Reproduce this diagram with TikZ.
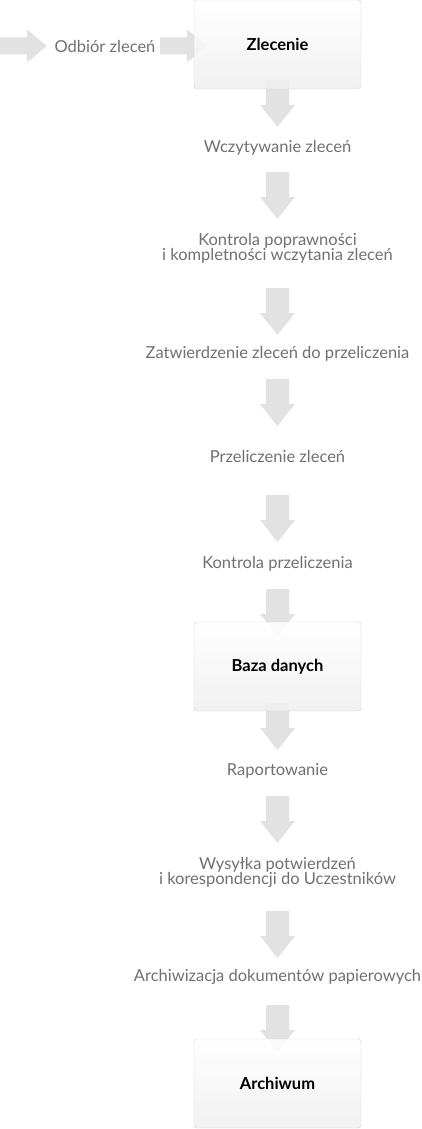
\documentclass[tikz,border=0pt]{standalone}
\usepackage{fontspec}
\setmainfont{Lato}
\definecolor{txtgray}{HTML}{707070}
\definecolor{arrowgray}{HTML}{E2E2E2}
\definecolor{boxline}{HTML}{D2D2D2}
\definecolor{boxbot}{HTML}{EFEFEF}
\tikzset{
  stage/.style={text=txtgray, font=\fontsize{16.5}{15}\selectfont, align=center, inner sep=0pt},
  box/.style={draw=boxline, rounded corners=3pt, top color=white, bottom color=boxbot,
    fill opacity=0.88, text opacity=1, minimum width=167pt, minimum height=89pt,
    font=\fontsize{16.5}{18}\selectfont\bfseries, text=black},
  pics/fatdown/.style={code={
    \fill[arrowgray] (-11.5,0) -- (11.5,0) -- (11.5,25) -- (17.5,25) -- (0,47)
      -- (-17.5,25) -- (-11.5,25) -- cycle;}},
  pics/fatright/.style={code={
    \fill[arrowgray] (0,-8.5) -- (27,-8.5) -- (27,-16.5) -- (47,0) -- (27,16.5)
      -- (27,8.5) -- (0,8.5) -- cycle;}},
}
\begin{document}
\begin{tikzpicture}[x=1pt,y=-1pt]
  \useasboundingbox (0,0) rectangle (422,1129);
  % arrows first, the boxes cover their ends
  \pic at (0,46) {fatright};
  \pic at (160,46) {fatright};
  \foreach \y in {80,172,288,379,495,589,703,796,911,1005}
    \pic at (277.5,\y) {fatdown};
  % boxes
  \node [box] (zlecenie) at (277.5,44.5) {Zlecenie};
  \node [box] (baza) at (277.5,666.5) {Baza danych};
  \node [box] (archiwum) at (277.5,1083.5) {Archiwum};
  % stages
  \node [stage] (odbior) at (105,46) {Odbiór zleceń};
  \node [stage] (wczyt) at (277.5,148) {Wczytywanie zleceń};
  \node [stage] (kontrola) at (277.5,248.5) {Kontrola poprawności\\i kompletności wczytania zleceń};
  \node [stage] (zatw) at (277.5,354) {Zatwierdzenie zleceń do przeliczenia};
  \node [stage] (przel) at (277.5,456) {Przeliczenie zleceń};
  \node [stage] (kprzel) at (277.5,564) {Kontrola przeliczenia};
  \node [stage] (raport) at (277.5,771) {Raportowanie};
  \node [stage] (wysylka) at (277.5,872.5) {Wysyłka potwierdzeń\\i korespondencji do Uczestników};
  \node [stage] (archiw) at (277.5,977) {Archiwizacja dokumentów papierowych};
\end{tikzpicture}
\end{document}
